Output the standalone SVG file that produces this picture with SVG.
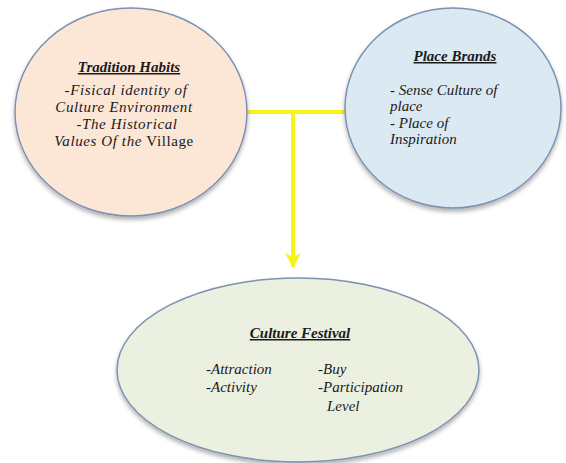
<svg xmlns="http://www.w3.org/2000/svg" width="566" height="463" viewBox="0 0 566 463">
  <defs>
    <filter id="shadow" x="-10%" y="-10%" width="120%" height="125%">
      <feDropShadow dx="0" dy="3" stdDeviation="2" flood-color="#000" flood-opacity="0.3"/>
    </filter>
    <marker id="arrow" viewBox="0 0 10 10" refX="9" refY="5" markerWidth="4" markerHeight="4" orient="auto" markerUnits="strokeWidth">
      <path d="M0,0 L10,5 L0,10 L3,5 Z" fill="#f7f21a"/>
    </marker>
    <style>
      .node { stroke: #7d91b2; stroke-width: 1.5; filter: url(#shadow); }
      .t { font-family: "Liberation Serif", "Times New Roman", "DejaVu Serif", serif; font-size: 15px; fill: #1a1a1a; font-style: italic; }
      .wide { letter-spacing: 0.6px; }
      .title { font-weight: bold; text-decoration: underline; font-size: 15px; }
      .mid { text-anchor: middle; }
      .up { font-style: normal; }
      .conn { stroke: #f7f21a; stroke-width: 4; fill: none; }
    </style>
  </defs>
  <rect width="566" height="463" fill="#ffffff"/>

  <g id="connectors">
    <line class="conn" x1="244" y1="112" x2="348" y2="112"/>
    <line class="conn" x1="293" y1="112" x2="293" y2="267" marker-end="url(#arrow)"/>
  </g>

  <g id="tradition-habits">
    <ellipse class="node" cx="131" cy="112" rx="116" ry="104" fill="#fce6d6"/>
    <text class="t title mid" x="129" y="72">Tradition Habits</text>
    <text class="t wide mid" x="126" y="95">-Fisical identity of</text>
    <text class="t wide mid" x="124" y="112">Culture Environment</text>
    <text class="t wide mid" x="127" y="129">-The Historical</text>
    <text class="t wide mid" x="124" y="146">Values Of the <tspan class="up">Village</tspan></text>
  </g>

  <g id="place-brands">
    <ellipse class="node" cx="453" cy="108" rx="108" ry="100" fill="#dbe9f3"/>
    <text class="t title mid" x="455" y="61">Place Brands</text>
    <text class="t" x="390" y="95">- Sense Culture of</text>
    <text class="t" x="390" y="111">place</text>
    <text class="t" x="390" y="128">- Place of</text>
    <text class="t" x="390" y="144">Inspiration</text>
  </g>

  <g id="culture-festival">
    <ellipse class="node" cx="298" cy="370" rx="181" ry="92" fill="#ecf0e0"/>
    <text class="t title mid" x="300" y="338">Culture Festival</text>
    <text class="t" x="206" y="374">-Attraction</text>
    <text class="t" x="206" y="392">-Activity</text>
    <text class="t" x="318" y="374">-Buy</text>
    <text class="t" x="318" y="392">-Participation</text>
    <text class="t" x="327" y="411">Level</text>
  </g>
</svg>
